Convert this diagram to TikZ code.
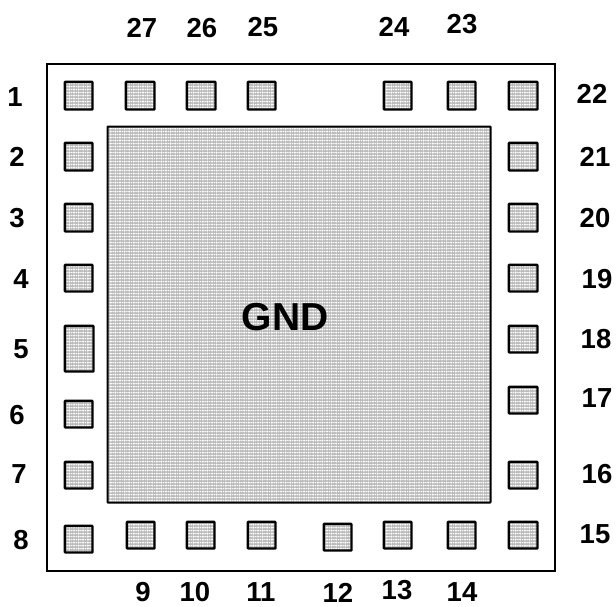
\documentclass[tikz,border=0pt]{standalone}
\usepackage{fontspec}
\setmainfont{Liberation Sans}
\usetikzlibrary{patterns}
\pgfdeclarepatternformonly{stip}{\pgfqpoint{-1pt}{-1pt}}{\pgfqpoint{3.6pt}{2pt}}{\pgfqpoint{4.6pt}{3pt}}{%
  \pgfpathcircle{\pgfqpoint{0.4pt}{0.4pt}}{1.1pt}\pgfusepath{fill}
  \pgfpathcircle{\pgfqpoint{2.7pt}{0.4pt}}{0.8pt}\pgfusepath{fill}}
\tikzset{
  stipple/.style={preaction={fill=black!27},pattern=stip,pattern color=white},
  pad/.style={draw=black,line width=2.4pt,rounded corners=0.6pt,stipple,inner sep=0pt,outer sep=0pt},
  pinlabel/.style={font=\bfseries\fontsize{27.5}{29}\selectfont,text=black,inner sep=0pt},
}
\begin{document}
\begin{tikzpicture}[x=1pt,y=-1pt]
\useasboundingbox (0,0) rectangle (616,606);
\fill[white] (0,0) rectangle (616,606);
\node[draw=black,line width=2pt,fill=white,minimum width=508pt,minimum height=507pt,inner sep=0pt,outer sep=0pt] (body) at (300.5,317) {};
\node[pad,line width=2pt,minimum width=383pt,minimum height=376pt] (gnd) at (299,314.5) {};
\node[font=\bfseries\fontsize{39}{41}\selectfont,inner sep=0pt] (gndtext) at (285,317) {GND};
\foreach \n/\xa/\ya/\xb/\yb in {
 p27/64/81/93/110,
 pb/125/81/155/110,
 pc/186/81/216/110,
 pd/247/81/276/110,
 pe/383/81/412/110,
 pf/447/81/476/110,
 pg/508/81/538/110,
 l2/64/142/93/171,
 l3/64/203/93/232,
 l4/64/264/93/292,
 l5/64/325/94/372,
 l6/64/400/93/428,
 l7/64/461/93/489,
 l8/64/525/93/553,
 b9/126/521/155/549,
 b10/186/521/215/549,
 b11/247/521/276/549,
 b12/323/523/352/551,
 b13/383/521/412/549,
 b14/447/521/476/549,
 b15/508/521/538/549,
 r21/508/142/538/171,
 r20/508/203/538/232,
 r19/508/264/538/292,
 r18/508/325/538/353,
 r17/508/386/538/414,
 r16/508/461/538/489}{
  \pgfmathsetmacro\cx{(\xa+\xb)/2+0.2}
  \pgfmathsetmacro\cy{(\ya+\yb)/2+0.2}
  \pgfmathsetmacro\padw{\xb-\xa-1.4}
  \pgfmathsetmacro\padh{\yb-\ya-1.4}
  \node[pad,minimum width=\padw pt,minimum height=\padh pt] (\n) at (\cx,\cy) {};
}
\foreach \t/\x/\y in {1/15/97,2/17/157,3/17/218,4/21/279,5/21/349,6/17/415,7/19/474,8/21/540,
 9/143/592.5,10/195/592.5,11/261/592.5,12/338/592.5,13/397/590.5,14/462/592,
 15/595/534,16/597/474,17/597/398,18/596/339,19/597/279,20/595/218,21/595/157,22/592/94,
 23/462/24,24/394/27,25/263/27,26/202/28,27/142/28}{
  \node[pinlabel] (t\t) at (\x,\y) {\t};
}
\end{tikzpicture}
\end{document}
